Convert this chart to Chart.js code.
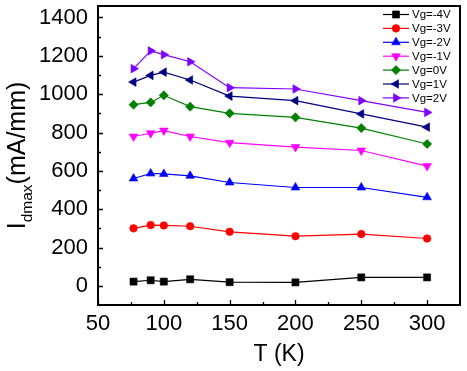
<!DOCTYPE html>
<html>
<head>
<meta charset="utf-8">
<script src="https://cdn.jsdelivr.net/npm/chart.js@4/dist/chart.umd.min.js"></script>
<style>
  html,body{margin:0;padding:0;background:#fff;}
  canvas{display:block;}
</style>
</head>
<body>
<canvas id="c" width="467" height="371"></canvas>
<script>
// data
const temps = [77, 90, 100, 120, 150, 200, 250, 300];
const vgM4 = [22, 29, 22, 34, 19, 18, 44, 44];
const vgM3 = [300, 317, 315, 311, 282, 259, 270, 247];
const vgM2 = [560, 586, 584, 574, 539, 513, 513, 462];
const vgM1 = [779, 796, 810, 779, 747, 724, 706, 625];
const vg0 = [945, 957, 994, 935, 900, 879, 823, 740];
const vg1 = [1063, 1098, 1115, 1074, 990, 966, 897, 828];
const vg2 = [1133, 1226, 1206, 1169, 1034, 1027, 966, 905];
const seriesNames = ['Vg=-4V', 'Vg=-3V', 'Vg=-2V', 'Vg=-1V', 'Vg=0V', 'Vg=1V', 'Vg=2V'];
const xTicks = [50, 100, 150, 200, 250, 300];
const yTicks = [0, 200, 400, 600, 800, 1000, 1200, 1400];

const FONT = '"Liberation Sans", Arial, sans-serif';

const styles = [
  {color:'#000000', pointStyle:'rect', rotation:0, r:5},
  {color:'#ff0000', pointStyle:'circle', rotation:0, r:3.8},
  {color:'#0000ff', pointStyle:'triangle', rotation:0, r:5},
  {color:'#ff00ff', pointStyle:'triangle', rotation:180, r:5},
  {color:'#008000', pointStyle:'rectRot', rotation:0, r:4.6},
  {color:'#000080', pointStyle:'triangle', rotation:-90, r:5},
  {color:'#8000ff', pointStyle:'triangle', rotation:90, r:5}
];
const allSeries = [vgM4, vgM3, vgM2, vgM1, vg0, vg1, vg2];

const datasets = allSeries.map((vals, i)=>({
  label: seriesNames[i],
  data: temps.map((t, j)=>({x:t, y:vals[j]})),
  borderColor: styles[i].color,
  backgroundColor: styles[i].color,
  borderWidth: 1.2,
  pointStyle: styles[i].pointStyle,
  rotation: styles[i].rotation,
  pointRadius: styles[i].r,
  pointBorderWidth: 0.6,
  pointBackgroundColor: styles[i].color,
  pointBorderColor: styles[i].color,
  fill: false,
  tension: 0,
  clip: false
}));

function drawMarker(ctx, st, x, y){
  if(Chart.helpers && Chart.helpers.drawPoint){
    ctx.fillStyle = st.color; ctx.strokeStyle = st.color; ctx.lineWidth = 0.6;
    Chart.helpers.drawPoint(ctx, {pointStyle:st.pointStyle, rotation:st.rotation, radius:st.r, borderWidth:0.6}, x, y);
  }
}

const framePlugin = {
  id: 'frame',
  afterDraw(chart){
    const ctx = chart.ctx, a = chart.chartArea;
    const xs = chart.scales.x, ys = chart.scales.y;
    ctx.save();
    ctx.strokeStyle = '#000'; ctx.lineWidth = 2;
    ctx.strokeRect(a.left, a.top, a.right - a.left, a.bottom - a.top);
    // inward ticks, bottom and left
    ctx.lineWidth = 1.3;
    ctx.beginPath();
    for(let v = 50; v <= 300; v += 25){
      const px = Math.round(xs.getPixelForValue(v)) + 0.5;
      const len = (v % 50 === 0) ? 5 : 3;
      ctx.moveTo(px, a.bottom); ctx.lineTo(px, a.bottom - len);
    }
    for(let v = 0; v <= 1400; v += 100){
      const py = Math.round(ys.getPixelForValue(v)) + 0.5;
      const len = (v % 200 === 0) ? 5 : 3;
      ctx.moveTo(a.left, py); ctx.lineTo(a.left + len, py);
    }
    ctx.stroke();

    // x title
    ctx.fillStyle = '#000';
    ctx.font = '23px ' + FONT;
    ctx.textAlign = 'center'; ctx.textBaseline = 'alphabetic';
    ctx.fillText('T (K)', (a.left + a.right) / 2, 361);

    // y title with subscript
    ctx.save();
    ctx.translate(25, (a.top + a.bottom) / 2);
    ctx.rotate(-Math.PI / 2);
    const big = '25px ' + FONT, small = '15.5px ' + FONT;
    ctx.font = big; const wI = ctx.measureText('I').width;
    const wU = ctx.measureText('(mA/mm)').width;
    ctx.font = small; const wS = ctx.measureText('dmax').width;
    let x0 = -(wI + wS + wU) / 2;
    ctx.textAlign = 'left';
    ctx.font = big; ctx.fillText('I', x0, 0);
    ctx.font = small; ctx.fillText('dmax', x0 + wI, 7);
    ctx.font = big; ctx.fillText('(mA/mm)', x0 + wI + wS, 0);
    ctx.restore();

    // legend
    ctx.font = '11.5px ' + FONT;
    ctx.textAlign = 'left'; ctx.textBaseline = 'middle';
    chart.data.datasets.forEach((ds, i)=>{
      const y = 14.5 + i * 13.9;
      const st = styles[i];
      ctx.strokeStyle = st.color; ctx.lineWidth = 1.2;
      ctx.beginPath(); ctx.moveTo(383, y); ctx.lineTo(409, y); ctx.stroke();
      drawMarker(ctx, st, 396, y);
      ctx.fillStyle = '#000';
      ctx.fillText(ds.label, 412, y + 0.5);
    });
    ctx.restore();
  }
};

new Chart(document.getElementById('c'), {
  type: 'line',
  data: { datasets },
  options: {
    responsive: false,
    animation: false,
    layout: { padding: { top: 6, right: 7, left: 0, bottom: 0 } },
    plugins: { legend: { display: false }, tooltip: { enabled: false } },
    scales: {
      x: {
        type: 'linear', min: 50, max: 325,
        grid: { display: false, drawTicks: false }, border: { display: false },
        afterBuildTicks: s => { s.ticks = xTicks.map(v=>({value:v})); },
        afterFit: s => { s.height = 66; s.paddingLeft = 0; s.paddingRight = 0; },
        ticks: { color: '#000', padding: 6, maxRotation: 0, font: { family: FONT, size: 22 } }
      },
      y: {
        min: -100, max: 1460,
        grid: { display: false, drawTicks: false }, border: { display: false },
        afterBuildTicks: s => { s.ticks = yTicks.map(v=>({value:v})); },
        afterFit: s => { s.width = 98; s.paddingTop = 0; s.paddingBottom = 0; },
        ticks: { color: '#000', padding: 10, font: { family: FONT, size: 22 }, callback: v => String(v) }
      }
    }
  },
  plugins: [framePlugin]
});
</script>
</body>
</html>
